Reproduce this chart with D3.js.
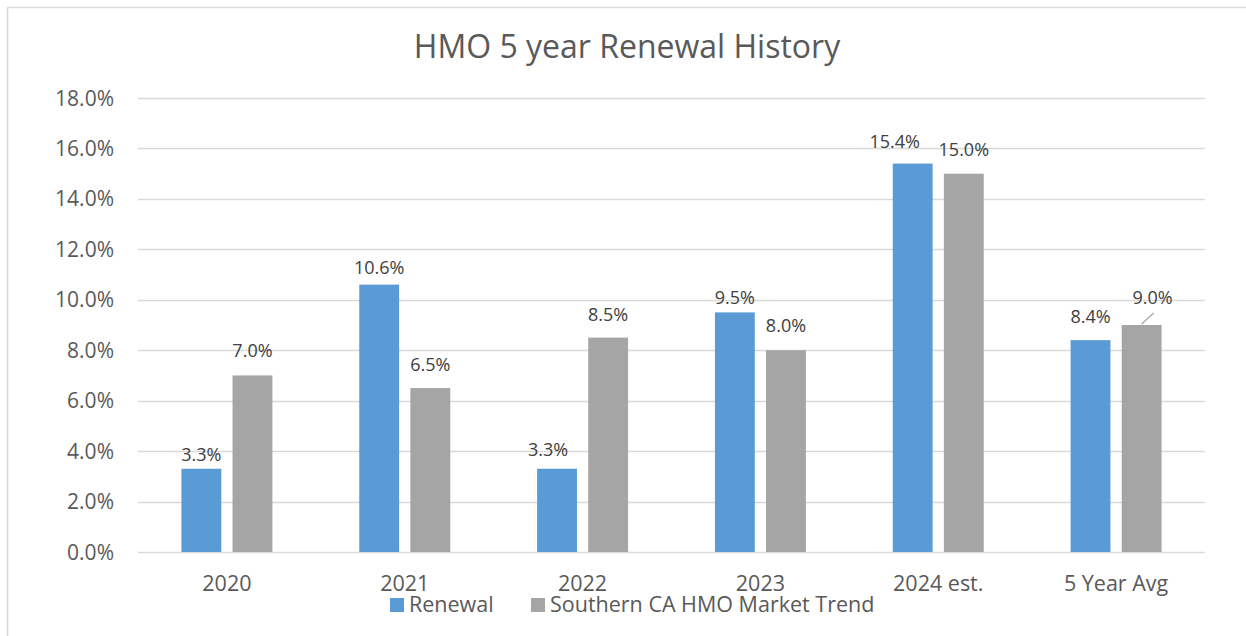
<!DOCTYPE html>
<html>
<head>
<meta charset="utf-8">
<script src="https://cdn.jsdelivr.net/npm/d3@7"></script>
<style>
  body { margin: 0; background: #fff; }
  svg { font-family: "Open Sans", sans-serif; display: block; }
</style>
</head>
<body>
<div class="canvas"></div>
<script>
// chart data
const categories = ["2020", "2021", "2022", "2023", "2024 est.", "5 Year Avg"];
const seriesNames = ["Renewal", "Southern CA HMO Market Trend"];
const renewal = [3.3, 10.6, 3.3, 9.5, 15.4, 8.4];
const marketTrend = [7.0, 6.5, 8.5, 8.0, 15.0, 9.0];
const yTicks = [0, 2, 4, 6, 8, 10, 12, 14, 16, 18];

const dims = {width: 1246, height: 636};
const plot = {left: 138, right: 1205, top: 98, bottom: 552};
const colors = ["#5B9BD5", "#A5A5A5"];
const textColor = "#595959";

// hand-placed data labels in the original: [dx, gap above bar top] per series
const labelNudge = [
    [[0, 8], [0, 11], [-9, 13], [0, 8], [-18, 16], [0, 17]],
    [[0, 18], [0, 17], [0, 17], [0, 18], [0, 18], [11, 21]]
];

const svg = d3.select(".canvas")
    .append("svg")
    .attr("width", dims.width)
    .attr("height", dims.height);

// chart border
svg.append("rect")
    .attr("x", 7.5).attr("y", 7.5)
    .attr("width", dims.width).attr("height", dims.height)
    .attr("fill", "none")
    .attr("stroke", "#D9D9D9")
    .attr("stroke-width", 1.5);

svg.append("text")
    .attr("x", 627).attr("y", 58)
    .attr("text-anchor", "middle")
    .attr("fill", textColor)
    .style("font-size", "32px")
    .text("HMO 5 year Renewal History");

const y = d3.scaleLinear().domain([0, 18]).range([plot.bottom, plot.top]);
const x0 = d3.scaleBand().domain(categories).range([plot.left, plot.right]);
const x1 = d3.scaleBand().domain(seriesNames)
    .range([0, x0.bandwidth()])
    .paddingInner(0.22)
    .paddingOuter(0.85);

// gridlines + y labels
const yAxis = svg.append("g");
yAxis.selectAll("line")
    .data(yTicks)
    .enter().append("line")
    .attr("x1", plot.left).attr("x2", plot.right)
    .attr("y1", d => Math.round(y(d)) + 0.5)
    .attr("y2", d => Math.round(y(d)) + 0.5)
    .attr("stroke", "#D9D9D9")
    .attr("stroke-width", 1.5);
yAxis.selectAll("text")
    .data(yTicks)
    .enter().append("text")
    .attr("x", 114)
    .attr("y", d => y(d))
    .attr("dy", "0.36em")
    .attr("text-anchor", "end")
    .attr("fill", textColor)
    .style("font-size", "21px")
    .text(d => d3.format(".1f")(d) + "%");

// x labels
svg.append("g").selectAll("text")
    .data(categories)
    .enter().append("text")
    .attr("x", d => x0(d) + x0.bandwidth() / 2)
    .attr("y", 591)
    .attr("text-anchor", "middle")
    .attr("fill", textColor)
    .style("font-size", "21.5px")
    .text(d => d);

// bars
const rows = categories.map((c, i) => ({cat: c, i: i, vals: [renewal[i], marketTrend[i]]}));
const groups = svg.append("g").selectAll("g")
    .data(rows)
    .enter().append("g")
    .attr("transform", d => `translate(${x0(d.cat)},0)`);

const bars = groups.selectAll("rect")
    .data(d => d.vals.map((v, j) => ({name: seriesNames[j], v: v, j: j, i: d.i})))
    .enter();

bars.append("rect")
    .attr("x", d => x1(d.name))
    .attr("y", d => y(d.v))
    .attr("width", x1.bandwidth())
    .attr("height", d => y(0) - y(d.v))
    .attr("fill", d => colors[d.j]);

bars.append("text")
    .attr("x", d => x1(d.name) + x1.bandwidth() / 2 + labelNudge[d.j][d.i][0])
    .attr("y", d => y(d.v) - labelNudge[d.j][d.i][1])
    .attr("text-anchor", "middle")
    .attr("fill", "#404040")
    .style("font-size", "18px")
    .text(d => d3.format(".1f")(d.v) + "%");

// leader line for the moved 9.0% label
groups.filter(d => d.cat === "5 Year Avg").append("line")
    .attr("x1", x1(seriesNames[1]) + x1.bandwidth() / 2)
    .attr("y1", y(marketTrend[5]) - 1)
    .attr("x2", x1(seriesNames[1]) + x1.bandwidth() / 2 + 12)
    .attr("y2", y(marketTrend[5]) - 12)
    .attr("stroke", "#A6A6A6")
    .attr("stroke-width", 1.2);

// legend
const legend = svg.append("g");
const legendX = [390, 531];
seriesNames.forEach((name, i) => {
    legend.append("rect")
        .attr("x", legendX[i]).attr("y", 598)
        .attr("width", 14).attr("height", 14)
        .attr("fill", colors[i]);
    legend.append("text")
        .attr("x", legendX[i] + 19).attr("y", 612)
        .attr("fill", textColor)
        .style("font-size", "21.5px")
        .text(name);
});
</script>
</body>
</html>
